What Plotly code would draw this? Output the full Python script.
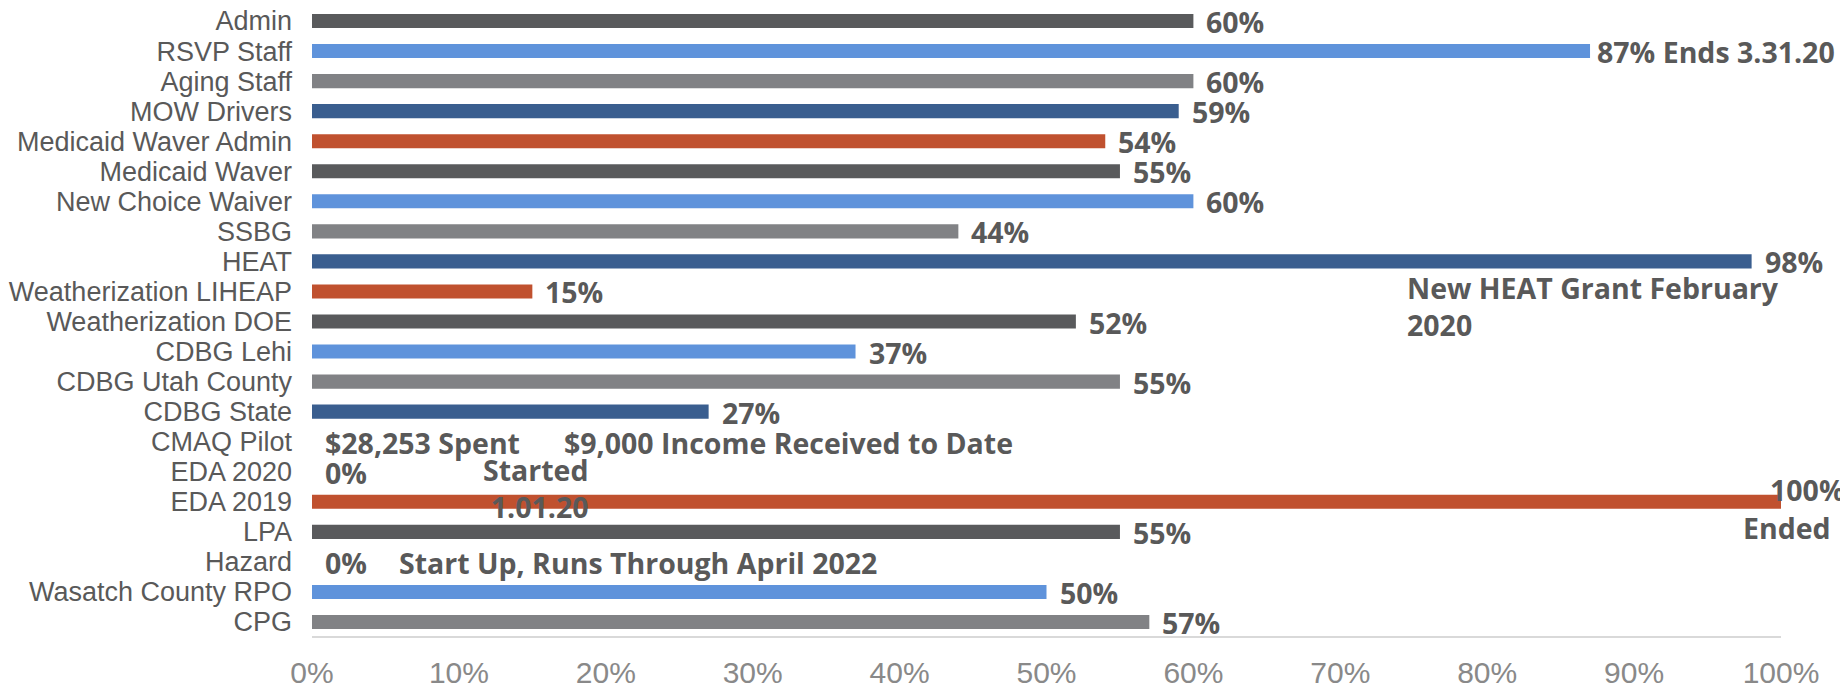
import plotly.graph_objects as go

categories = ["Admin", "RSVP Staff", "Aging Staff", "MOW Drivers", "Medicaid Waver Admin",
              "Medicaid Waver", "New Choice Waiver", "SSBG", "HEAT", "Weatherization LIHEAP",
              "Weatherization DOE", "CDBG Lehi", "CDBG Utah County", "CDBG State", "CMAQ Pilot",
              "EDA 2020", "EDA 2019", "LPA", "Hazard", "Wasatch County RPO", "CPG"]
percent_spent = [60, 87, 60, 59, 54, 55, 60, 44, 98, 15, 52, 37, 55, 27, 0, 0, 100, 55, 0, 50, 57]
data_labels = ["60%", "87% Ends 3.31.20", "60%", "59%", "54%", "55%", "60%", "44%", "98%", "15%",
               "52%", "37%", "55%", "27%", "$28,253 Spent", "0%", "100%", "55%", "0%", "50%", "57%"]
x_ticks = [0, 10, 20, 30, 40, 50, 60, 70, 80, 90, 100]
x_tick_labels = [f"{t}%" for t in x_ticks]

note_income = "$9,000 Income Received to Date"
note_started = "Started<br>1.01.20"
note_hazard = "Start Up, Runs Through April 2022"
note_heat = "New HEAT Grant February<br>2020"
note_ended = "Ended"

# styles
DG, LB, MG, DB, OR = "#595A5C", "#5F93DB", "#818285", "#3A5E8F", "#C0512F"
bar_colors = [DG, LB, MG, DB, OR, DG, LB, MG, DB, OR, DG, LB, MG, DB, OR, DG, OR, DG, LB, LB, MG]
LABEL_FONT = dict(family="Open Sans", size=28.5, color="#595959", weight="bold")

fig = go.Figure(go.Bar(
    x=percent_spent, y=categories, orientation="h",
    marker=dict(color=bar_colors, line=dict(width=0)),
    hoverinfo="skip",
))

annotations = []
for cat, val, lab in zip(categories, percent_spent, data_labels):
    xs, ys = 11, -1
    if cat == "EDA 2019":
        xs, ys = -13, 12
    elif cat == "RSVP Staff":
        xs = 5
    annotations.append(dict(x=val, y=cat, text=lab, xanchor="left", yanchor="middle",
                            xshift=xs, yshift=ys, showarrow=False, font=LABEL_FONT))

idx = {c: i for i, c in enumerate(categories)}
annotations += [
    dict(x=17.0, y="CMAQ Pilot", text=note_income, xanchor="left", yanchor="middle",
         yshift=-1, showarrow=False, font=LABEL_FONT),
    dict(x=18.9, y=idx["EDA 2020"] + 0.55, text=note_started, xanchor="right", yanchor="middle",
         align="right", showarrow=False, font=LABEL_FONT),
    dict(x=5.8, y="Hazard", text=note_hazard, xanchor="left", yanchor="middle",
         yshift=-1, showarrow=False, font=LABEL_FONT),
    dict(x=74.4, y=idx["Weatherization LIHEAP"] + 0.5, text=note_heat, xanchor="left",
         yanchor="middle", align="left", showarrow=False, font=LABEL_FONT),
    dict(x=100, y="EDA 2019", text=note_ended, xanchor="center", yanchor="middle",
         xshift=6, yshift=-26, showarrow=False, font=LABEL_FONT),
]

fig.update_layout(
    width=1840, height=679,
    margin=dict(l=304, r=67, t=0, b=51, autoexpand=False),
    paper_bgcolor="white", plot_bgcolor="white",
    bargap=0.53, showlegend=False,
    annotations=annotations,
    xaxis=dict(range=[0, 100], tickvals=x_ticks, ticktext=x_tick_labels, automargin=False,
               showgrid=False, zeroline=False, showline=True, linecolor="#D9D9D9", linewidth=2,
               ticks="", ticklabelstandoff=9,
               tickfont=dict(family="Liberation Sans", size=30, color="#898989")),
    yaxis=dict(type="category", categoryorder="array", categoryarray=categories,
               tickmode="array", tickvals=categories, ticktext=categories, automargin=False,
               range=[20.466, -0.433], showgrid=False, zeroline=False,
               showline=False, ticks="", ticklabelstandoff=19,
               tickfont=dict(family="Liberation Sans", size=27, color="#595959")),
)

fig.write_html("out.html")
